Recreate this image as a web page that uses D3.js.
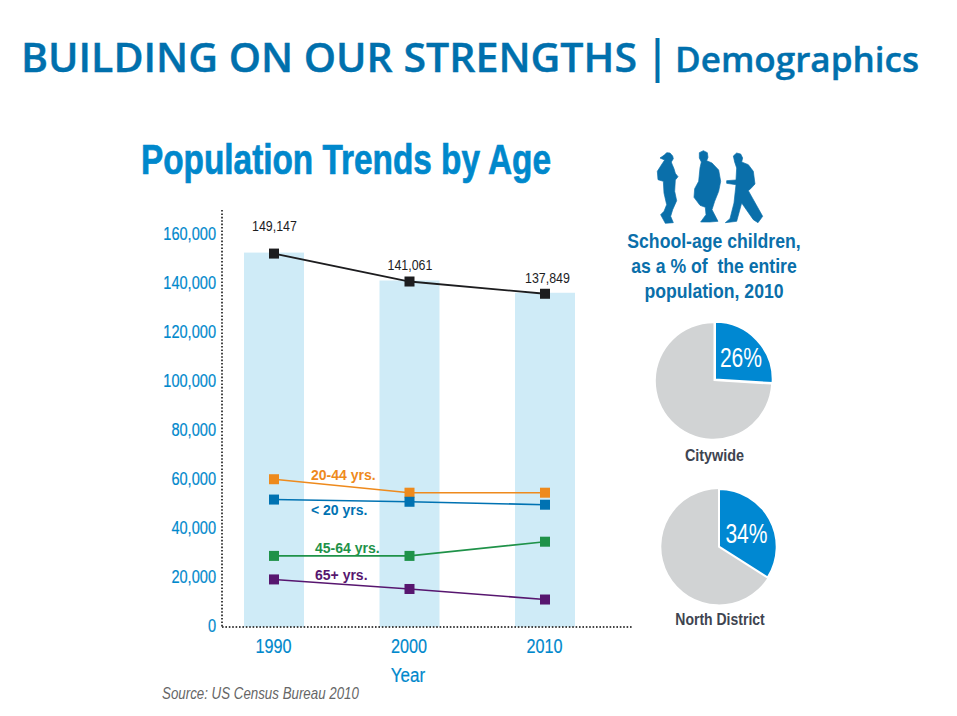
<!DOCTYPE html>
<html><head><meta charset="utf-8">
<script src="https://cdn.jsdelivr.net/npm/d3@7"></script>
<style>html,body{margin:0;padding:0;background:#fff}svg{display:block}
.n{font-family:"Liberation Sans",sans-serif}</style></head>
<body><svg id="c" width="957" height="716"></svg>
<script>
const years=["1990","2000","2010"];
const yTicks=[0,20000,40000,60000,80000,100000,120000,140000,160000];
const totals=[151600,140200,135200];
const totalLabels=["149,147","141,061","137,849"];
const age2044=[59500,54000,54000];
const ageU20=[51200,50300,49100];
const age4564=[28200,28200,34000];
const age65=[18600,14700,10400];
const seriesNames=["20-44 yrs.","< 20 yrs.","45-64 yrs.","65+ yrs."];
const pieCity=[26,74];
const pieNorth=[34,66];

const svg=d3.select("#c");
const BLUE="#0088cc",DARK="#0a6faa",HEAD="#0070ad";
const x=d3.scalePoint().domain(years).range([274,545]);
const y=d3.scaleLinear().domain([0,160000]).range([625,233]);
const base=627;
// no condensed face is installed: narrow each text by a horizontal factor
function narrow(sel,k){sel.each(function(){const n=this.getComputedTextLength();
  d3.select(this).attr("textLength",n*k).attr("lengthAdjust","spacingAndGlyphs");});return sel;}

// header
svg.append("text").attr("x",21).attr("y",71.5).attr("fill",HEAD).attr("stroke",HEAD).attr("stroke-width",0.4)
  .attr("font-family","Open Sans").attr("font-weight",600).attr("font-size",40)
  .attr("textLength",616).attr("lengthAdjust","spacingAndGlyphs").text("BUILDING ON OUR STRENGTHS");
svg.append("text").attr("x",645).attr("y",71.5).attr("fill",HEAD)
  .attr("font-family","Open Sans").attr("font-weight",600).attr("font-size",45).text("|");
svg.append("text").attr("x",675).attr("y",71.5).attr("fill",HEAD).attr("stroke",HEAD).attr("stroke-width",0.4)
  .attr("font-family","Open Sans").attr("font-weight",600).attr("font-size",34)
  .attr("textLength",244).attr("lengthAdjust","spacingAndGlyphs").text("Demographics");

// chart title
svg.append("text").attr("class","n").attr("x",141).attr("y",174).attr("fill",BLUE)
  .attr("stroke",BLUE).attr("stroke-width",0.7)
  .attr("font-weight",700).attr("font-size",42).attr("textLength",410).attr("lengthAdjust","spacingAndGlyphs")
  .text("Population Trends by Age");

// bars
svg.append("g").selectAll("rect").data(totals).join("rect")
  .attr("x",(d,i)=>x(years[i])-30).attr("width",60)
  .attr("y",d=>y(d)-1).attr("height",d=>base-y(d)+1).attr("fill","#cfebf7");

// axes
const ax=svg.append("g").attr("stroke","#444").attr("stroke-width",2).attr("stroke-dasharray","1.6 1.8");
ax.append("line").attr("x1",222).attr("x2",222).attr("y1",210).attr("y2",base);
ax.append("line").attr("x1",222).attr("x2",632).attr("y1",base).attr("y2",base);

const yAxis=d3.axisLeft(y).tickValues(yTicks).tickSize(0).tickPadding(0).tickFormat(d3.format(","));
const gy=svg.append("g").attr("transform","translate(216,0)").call(yAxis);
gy.select(".domain").remove();
narrow(gy.selectAll("text").attr("class","n").attr("fill",BLUE).attr("stroke",BLUE).attr("stroke-width",0.2)
  .attr("font-size",18).attr("dy","0.36em"),0.81);
const xAxis=d3.axisBottom(x).tickSize(0).tickPadding(0);
const gx=svg.append("g").attr("transform","translate(-1,637)").call(xAxis);
gx.select(".domain").remove();
narrow(gx.selectAll("text").attr("class","n").attr("fill",BLUE).attr("stroke",BLUE).attr("stroke-width",0.2)
  .attr("font-size",20).attr("dy","0.8em"),0.81);
narrow(svg.append("text").attr("class","n").attr("x",408).attr("y",682).attr("text-anchor","middle")
  .attr("fill",BLUE).attr("stroke",BLUE).attr("stroke-width",0.2).attr("font-size",20).text("Year"),0.85);
narrow(svg.append("text").attr("class","n").attr("x",162).attr("y",699).attr("fill","#666")
  .attr("font-style","italic").attr("font-size",16.5).text("Source: US Census Bureau 2010"),0.807);

// lines
const line=d3.line().x((d,i)=>x(years[i])).y(d=>y(d));
const series=[[totals,"#1d1d1f",1.8],[age2044,"#ee8a1d",1.6],[ageU20,"#0072b2",1.6],[age4564,"#1f9249",1.6],[age65,"#57166f",1.6]];
series.forEach(([v,c,w])=>{
  svg.append("path").attr("d",line(v)).attr("fill","none").attr("stroke",c).attr("stroke-width",w);
  svg.append("g").selectAll("rect").data(v).join("rect")
    .attr("x",(d,i)=>x(years[i])-5).attr("y",d=>y(d)-5).attr("width",10).attr("height",10).attr("fill",c);
});

// total labels
const labelDy=[-23,-12,-11],labelDx=[0.5,0.5,2.5];
narrow(svg.append("g").selectAll("text").data(totals).join("text").attr("class","n")
  .attr("x",(d,i)=>x(years[i])+labelDx[i]).attr("y",(d,i)=>y(d)+labelDy[i])
  .attr("text-anchor","middle").attr("font-size",15.5).attr("fill","#1d1d1f").text((d,i)=>totalLabels[i]),0.8);

// series labels
const lx=[311,311,315,315],ly=[480,515,553,580],lc=["#ee8a1d","#0072b2","#1f9249","#57166f"];
svg.append("g").selectAll("text").data(seriesNames).join("text")
  .attr("x",(d,i)=>lx[i]).attr("y",(d,i)=>ly[i]).attr("fill",(d,i)=>lc[i])
  .attr("font-family","Liberation Sans").attr("font-weight",700).attr("font-size",14).text(d=>d);

// silhouettes
const p1=svg.append("g").attr("transform","translate(650,148) scale(0.3333)");
const p2=svg.append("g").attr("transform","translate(690,148) scale(0.3333)");
[[p1,"M30,30 L42,22 L50,14 L60,15 L68,24 L70,32 L64,42 L66,48 L72,62 L76,76 L84,86 L76,96 L74,130 L80,158 L68,185 L62,205 L70,224 L46,226 L32,200 L42,190 L50,170 L42,135 L40,100 L24,95 L22,70 L36,48 L44,36 Z"],
 [p2,"M28,14 L40,8 L52,14 L54,28 L50,38 L66,45 L86,66 L92,100 L86,130 L74,160 L66,185 L84,220 L60,222 L32,222 L48,200 L46,178 L30,172 L12,148 L14,122 L26,100 L30,60 L34,42 L28,30 Z"],
 [p2,"M130,24 L140,15 L152,18 L158,30 L155,42 L175,50 L190,70 L195,108 L182,122 L175,128 L218,205 L204,224 L190,215 L155,165 L140,220 L106,224 L120,212 L132,165 L138,110 L110,106 L110,98 L138,96 L140,60 L134,42 Z"]]
 .forEach(([g,p])=>g.append("path").attr("d",p).attr("fill",DARK).attr("stroke",DARK).attr("stroke-width",2).attr("stroke-linejoin","round"));

["School-age children,","as a % of  the entire","population, 2010"].forEach((t,i)=>
  narrow(svg.append("text").attr("class","n").attr("x",714).attr("y",248+i*25).attr("text-anchor","middle")
   .style("white-space","pre")
   .attr("fill",DARK).attr("font-weight",700).attr("font-size",20.5).text(t),0.86));

// pies
const pie=d3.pie().sort(null);
const arc=d3.arc().innerRadius(0).outerRadius(57.7);
function drawPie(vals,cx,cy,dx,label,tx,ty,lab,ly,k){
  const a=pie(vals);
  const g=svg.append("g").attr("transform",`translate(${cx},${cy})`);
  g.append("path").attr("d",arc(a[1])).attr("fill","#d1d3d4");
  g.append("path").attr("d",arc(a[0])).attr("transform",`translate(${dx},${-dx})`)
    .attr("fill","#0088d2").attr("stroke","#fff").attr("stroke-width",2);
  narrow(svg.append("text").attr("class","n").attr("x",tx).attr("y",ty).attr("text-anchor","middle")
    .attr("fill","#fff").attr("font-size",27).text(label),0.78);
  narrow(svg.append("text").attr("class","n").attr("x",cx+1).attr("y",ly).attr("text-anchor","middle")
    .attr("fill","#3e4450").attr("font-weight",700).attr("font-size",16).text(lab),k);
}
drawPie(pieCity,713.5,381,1.5,pieCity[0]+"%",741,367,"Citywide",461,0.9);
drawPie(pieNorth,719,546.7,0,pieNorth[0]+"%",746.5,543,"North District",625,0.875);
</script></body></html>
